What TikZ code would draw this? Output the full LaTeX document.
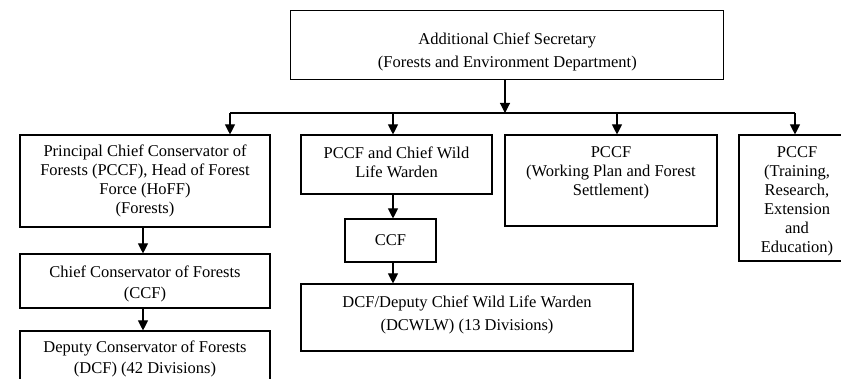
\documentclass[tikz,border=0pt]{standalone}
\usepackage{fontspec}
\setmainfont{Liberation Serif}
\usetikzlibrary{arrows.meta}
\newcommand{\upstrut}[1]{\rule{0pt}{#1}}
\newcommand{\dnstrut}[1]{\rule[-#1]{0pt}{#1}}
\begin{document}
\begin{tikzpicture}[x=1pt,y=-1pt,
  box/.style={draw, line width=1.1pt, inner sep=0pt, align=center, font=\fontsize{16.5}{19}\selectfont},
  wide/.style={font=\fontsize{16.5}{23}\selectfont},
  mid/.style={font=\fontsize{16.5}{21}\selectfont},
  arr/.style={line width=1.1pt, -{Triangle[width=10pt,length=10pt]}},
  ln/.style={line width=1.1pt}]
\useasboundingbox (0,0) rectangle (841,379);
\clip (0,0) rectangle (841,379);
% boxes
\node[box, wide, minimum width=433pt, minimum height=69pt] (top) at (507.3,45.3)
  {\upstrut{25pt}Additional Chief Secretary\\(Forests and Environment Department)};
\node[box, minimum width=250pt, minimum height=92pt] (b1) at (145,181)
  {Principal Chief Conservator of\\Forests (PCCF), Head of Forest\\Force (HoFF)\\(Forests)};
\node[box, minimum width=191pt, minimum height=59pt] (b2) at (396.5,164.5)
  {PCCF and Chief Wild\\Life Warden\dnstrut{5pt}};
\node[box, minimum width=212pt, minimum height=91pt] (b3) at (611,180.5)
  {PCCF\\(Working Plan and Forest\\Settlement)\\\mbox{}};
\node[box, minimum width=116pt, minimum height=126pt] (b4) at (797,198)
  {\upstrut{17.5pt}PCCF\\(Training,\\Research,\\Extension\\and\\Education)};
\node[box, mid, minimum width=250pt, minimum height=54pt] (c1) at (145,281)
  {\upstrut{17.5pt}Chief Conservator of Forests\\(CCF)};
\node[box, mid, minimum width=250pt, minimum height=55pt] (d1) at (145,358.5)
  {Deputy Conservator of Forests\\(DCF) (42 Divisions)};
\node[box, minimum width=91pt, minimum height=43pt] (c2) at (390.5,240.5) {CCF};
\node[box, wide, minimum width=332pt, minimum height=67pt] (d2) at (467,317.5)
  {DCF/Deputy Chief Wild Life Warden\\(DCWLW) (13 Divisions)\dnstrut{8.5pt}};
% bus coordinates
\coordinate (j0) at (505,113);
\coordinate (j1) at (230,113);
\coordinate (j2) at (393,113);
\coordinate (j3) at (617,113);
\coordinate (j4) at (795,113);
\coordinate (k1) at (143,0);
% connectors
\draw[arr] (top.south -| j0) -- (j0);
\draw[ln] (j1) -- (j4);
\draw[arr] (j1) -- (j1 |- b1.north);
\draw[arr] (j2) -- (j2 |- b2.north);
\draw[arr] (j3) -- (j3 |- b3.north);
\draw[arr] (j4) -- (j4 |- b4.north);
\draw[arr] (b1.south -| k1) -- (c1.north -| k1);
\draw[arr] (c1.south -| k1) -- (d1.north -| k1);
\draw[arr] (b2.south -| j2) -- (c2.north -| j2);
\draw[arr] (c2.south -| j2) -- (d2.north -| j2);
\end{tikzpicture}
\end{document}
